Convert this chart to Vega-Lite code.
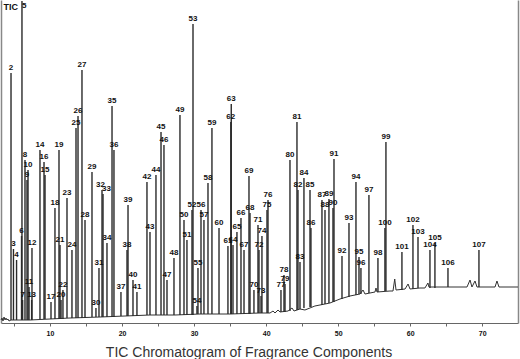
{
  "$schema": "https://vega.github.io/schema/vega-lite/v6.json",
  "width": 517,
  "height": 323,
  "autosize": {"type": "none"},
  "padding": {"left": 1, "top": 0, "right": 2, "bottom": 36},
  "background": "white",
  "config": {"view": {"stroke": null}, "font": "Liberation Sans"},
  "datasets": {
    "peaks": [
      {"n":"2","t":4.59,"v":250,"b":3},{"n":"3","t":4.93,"v":74,"b":3},{"n":"4","t":5.36,"v":63,"b":3},
      {"n":"5","t":6.11,"v":322,"b":3},{"n":"6","t":6.05,"v":87,"b":3},{"n":"7","t":6.20,"v":23,"b":3},
      {"n":"8","t":6.53,"v":163,"b":3},{"n":"9","t":6.81,"v":143,"b":3},{"n":"10","t":6.95,"v":153,"b":3},
      {"n":"11","t":7.09,"v":36,"b":3},{"n":"12","t":7.50,"v":75,"b":3},{"n":"13","t":7.45,"v":23,"b":3},
      {"n":"14","t":8.61,"v":173,"b":4},{"n":"15","t":9.31,"v":148,"b":4},{"n":"16","t":9.17,"v":161,"b":4},
      {"n":"17","t":10.14,"v":21,"b":4},{"n":"18","t":10.69,"v":115,"b":4},{"n":"19","t":11.25,"v":173,"b":4},
      {"n":"20","t":11.53,"v":23,"b":4},{"n":"21","t":11.39,"v":78,"b":4},{"n":"22","t":11.80,"v":33,"b":4},
      {"n":"23","t":12.36,"v":125,"b":5},{"n":"24","t":13.05,"v":73,"b":5},{"n":"25","t":13.61,"v":195,"b":5},
      {"n":"26","t":13.89,"v":207,"b":5},{"n":"27","t":14.44,"v":253,"b":5},{"n":"28","t":14.86,"v":103,"b":5},
      {"n":"29","t":15.83,"v":151,"b":6},{"n":"30","t":16.38,"v":15,"b":6},{"n":"31","t":16.80,"v":55,"b":6},
      {"n":"32","t":17.22,"v":133,"b":6},{"n":"33","t":17.36,"v":129,"b":6},{"n":"34","t":17.91,"v":80,"b":6},
      {"n":"35","t":18.61,"v":217,"b":6},{"n":"36","t":18.88,"v":173,"b":6},{"n":"37","t":19.85,"v":31,"b":7},
      {"n":"38","t":20.69,"v":73,"b":7},{"n":"39","t":20.83,"v":118,"b":7},{"n":"40","t":21.52,"v":43,"b":7},
      {"n":"41","t":22.07,"v":31,"b":7},{"n":"42","t":23.46,"v":141,"b":8},{"n":"43","t":23.88,"v":91,"b":8},
      {"n":"44","t":24.71,"v":148,"b":8},{"n":"45","t":25.41,"v":191,"b":8},{"n":"46","t":25.82,"v":178,"b":8},
      {"n":"47","t":26.24,"v":43,"b":8},{"n":"48","t":27.21,"v":65,"b":8},{"n":"49","t":28.04,"v":208,"b":8},
      {"n":"50","t":28.60,"v":103,"b":8},{"n":"51","t":29.01,"v":83,"b":8},{"n":"52","t":29.71,"v":113,"b":8},
      {"n":"53","t":29.85,"v":299,"b":8},{"n":"54","t":30.40,"v":17,"b":9},{"n":"55","t":30.54,"v":55,"b":9},
      {"n":"56","t":30.96,"v":113,"b":9},{"n":"57","t":31.37,"v":103,"b":9},{"n":"58","t":31.93,"v":140,"b":9},
      {"n":"59","t":32.48,"v":195,"b":9},{"n":"60","t":33.46,"v":95,"b":9},{"n":"61","t":34.70,"v":77,"b":9},
      {"n":"62","t":35.10,"v":201,"b":9},{"n":"63","t":35.16,"v":219,"b":9},{"n":"64","t":35.40,"v":78,"b":9},
      {"n":"65","t":35.95,"v":91,"b":9},{"n":"66","t":36.51,"v":105,"b":9},{"n":"67","t":36.93,"v":73,"b":9},
      {"n":"68","t":37.76,"v":110,"b":9},{"n":"69","t":37.62,"v":147,"b":9},{"n":"70","t":38.31,"v":33,"b":10},
      {"n":"71","t":38.87,"v":98,"b":10},{"n":"72","t":39.01,"v":73,"b":10},{"n":"73","t":39.29,"v":27,"b":10},
      {"n":"74","t":39.42,"v":87,"b":10},{"n":"75","t":40.12,"v":113,"b":10},{"n":"76","t":40.26,"v":123,"b":10},
      {"n":"77","t":42.06,"v":33,"b":11},{"n":"78","t":42.48,"v":48,"b":11},{"n":"79","t":42.62,"v":39,"b":11},
      {"n":"80","t":43.31,"v":163,"b":12},{"n":"81","t":44.28,"v":201,"b":13},{"n":"82","t":44.42,"v":133,"b":13},
      {"n":"83","t":44.70,"v":61,"b":14},{"n":"84","t":45.25,"v":145,"b":15},{"n":"85","t":46.09,"v":133,"b":16},
      {"n":"86","t":46.22,"v":95,"b":16},{"n":"87","t":47.75,"v":123,"b":18},{"n":"88","t":48.17,"v":113,"b":19},
      {"n":"89","t":48.72,"v":124,"b":20},{"n":"90","t":49.28,"v":115,"b":21},{"n":"91","t":49.42,"v":164,"b":21},
      {"n":"92","t":50.53,"v":67,"b":24},{"n":"93","t":51.50,"v":100,"b":26},{"n":"94","t":52.47,"v":141,"b":28},
      {"n":"95","t":52.89,"v":66,"b":29},{"n":"96","t":53.16,"v":55,"b":29},{"n":"97","t":54.27,"v":128,"b":30},
      {"n":"98","t":55.52,"v":65,"b":31},{"n":"99","t":56.63,"v":181,"b":32},{"n":"100","t":56.49,"v":95,"b":32},
      {"n":"101","t":58.85,"v":71,"b":33},{"n":"102","t":60.38,"v":98,"b":34},{"n":"103","t":61.08,"v":86,"b":35},
      {"n":"104","t":62.74,"v":73,"b":35},{"n":"105","t":63.43,"v":80,"b":35},{"n":"106","t":65.24,"v":55,"b":36},
      {"n":"107","t":69.54,"v":73,"b":36}
    ],
    "base": [
      {"t":3.20,"v":3},{"t":3.34,"v":5},{"t":3.48,"v":2},{"t":3.62,"v":6},{"t":3.76,"v":3},{"t":3.89,"v":5},
      {"t":4.03,"v":3},{"t":4.17,"v":4},{"t":4.31,"v":2},{"t":4.59,"v":3},{"t":7.22,"v":3},{"t":10.0,"v":4},
      {"t":12.78,"v":5},{"t":16.94,"v":6},{"t":20.41,"v":7},{"t":23.88,"v":8},{"t":27.35,"v":8},{"t":30.82,"v":9},
      {"t":34.98,"v":9},{"t":39.15,"v":10},{"t":40.54,"v":10},{"t":40.96,"v":12},{"t":41.23,"v":10},{"t":41.65,"v":13},
      {"t":41.93,"v":11},{"t":43.04,"v":12},{"t":43.59,"v":15},{"t":43.87,"v":12},{"t":44.70,"v":14},{"t":45.39,"v":13},
      {"t":46.77,"v":17},{"t":48.86,"v":20},{"t":50.25,"v":24},{"t":51.64,"v":27},{"t":53.03,"v":29},{"t":53.45,"v":33},
      {"t":53.72,"v":29},{"t":55.11,"v":31},{"t":55.25,"v":35},{"t":55.39,"v":31},{"t":57.19,"v":32},{"t":57.61,"v":32},
      {"t":57.85,"v":44},{"t":58.03,"v":33},{"t":59.28,"v":34},{"t":59.70,"v":39},{"t":59.97,"v":34},{"t":61.35,"v":35},
      {"t":62.04,"v":35},{"t":62.46,"v":40},{"t":62.60,"v":36},{"t":66.91,"v":36},{"t":67.88,"v":36},{"t":68.30,"v":43},
      {"t":68.57,"v":36},{"t":68.99,"v":42},{"t":69.27,"v":36},{"t":71.77,"v":36},{"t":72.04,"v":42},{"t":72.32,"v":36},
      {"t":74.96,"v":36}
    ]
  },
  "encoding": {
    "x": {
      "field": "t",
      "type": "quantitative",
      "scale": {"domain": [3.2, 74.96], "nice": false, "zero": false},
      "axis": {
        "values": [5,10,15,20,25,30,35,40,45,50,55,60,65,70],
        "labelExpr": "datum.value % 10 === 0 ? datum.label : ''",
        "labelOverlap": false,
        "labelFlush": false,
        "grid": false,
        "domainColor": "#666",
        "domainWidth": 1.2,
        "tickColor": "#666",
        "tickSize": 3,
        "labelFontSize": 7,
        "labelFontWeight": "bold",
        "labelColor": "#111",
        "labelPadding": 3,
        "title": "TIC Chromatogram of Fragrance Components",
        "titleFontSize": 14,
        "titleFontWeight": "normal",
        "titleColor": "#333",
        "titleX": 247.5,
        "titleY": 33,
        "titleAlign": "center",
        "titleBaseline": "alphabetic"
      }
    }
  },
  "layer": [
    {
      "data": {"name": "base"},
      "mark": {"type": "line", "color": "#333", "strokeWidth": 1},
      "encoding": {
        "y": {
          "field": "v", "type": "quantitative",
          "scale": {"domain": [0, 323], "nice": false},
          "axis": {
            "orient": "left", "labels": false, "ticks": false, "grid": false,
            "domainColor": "#888", "domainWidth": 1.5,
            "title": "TIC", "titleAngle": 0, "titleAlign": "left", "titleBaseline": "middle",
            "titleX": 2, "titleY": 6, "titleFontSize": 9, "titleFontWeight": "bold", "titleColor": "#111"
          }
        }
      }
    },
    {
      "data": {"name": "peaks"},
      "mark": {"type": "rule", "color": "#2a2a2a", "strokeWidth": 1.4},
      "encoding": {
        "y": {
          "field": "v", "type": "quantitative",
          "axis": {"orient": "right", "labels": false, "ticks": false, "grid": false, "title": null,
                   "domainColor": "#888", "domainWidth": 1.5}
        },
        "y2": {"field": "b"}
      }
    },
    {
      "data": {"name": "peaks"},
      "transform": [{"filter": "indexof(['5','32','33'], datum.n) < 0"}],
      "mark": {"type": "text", "fontSize": 8, "fontWeight": "bold", "color": "#111", "baseline": "alphabetic", "dy": -3},
      "encoding": {
        "y": {"field": "v", "type": "quantitative", "axis": null},
        "text": {"field": "n"}
      }
    },
    {
      "data": {"name": "peaks"},
      "transform": [{"filter": "datum.n === '32'"}],
      "mark": {"type": "text", "fontSize": 8, "fontWeight": "bold", "color": "#111", "baseline": "alphabetic", "align": "right", "dy": -3, "dx": 3},
      "encoding": {
        "y": {"field": "v", "type": "quantitative", "axis": null},
        "text": {"field": "n"}
      }
    },
    {
      "data": {"name": "peaks"},
      "transform": [{"filter": "datum.n === '33'"}],
      "mark": {"type": "text", "fontSize": 8, "fontWeight": "bold", "color": "#111", "baseline": "alphabetic", "align": "left", "dy": -3, "dx": -1},
      "encoding": {
        "y": {"field": "v", "type": "quantitative", "axis": null},
        "text": {"field": "n"}
      }
    },
    {
      "data": {"name": "peaks"},
      "transform": [{"filter": "datum.n === '5'"}],
      "mark": {"type": "text", "fontSize": 8, "fontWeight": "bold", "color": "#111", "baseline": "alphabetic", "align": "left", "dy": 7, "dx": 0},
      "encoding": {
        "y": {"field": "v", "type": "quantitative", "axis": null},
        "text": {"field": "n"}
      }
    }
  ],
  "resolve": {"axis": {"y": "independent"}}
}
